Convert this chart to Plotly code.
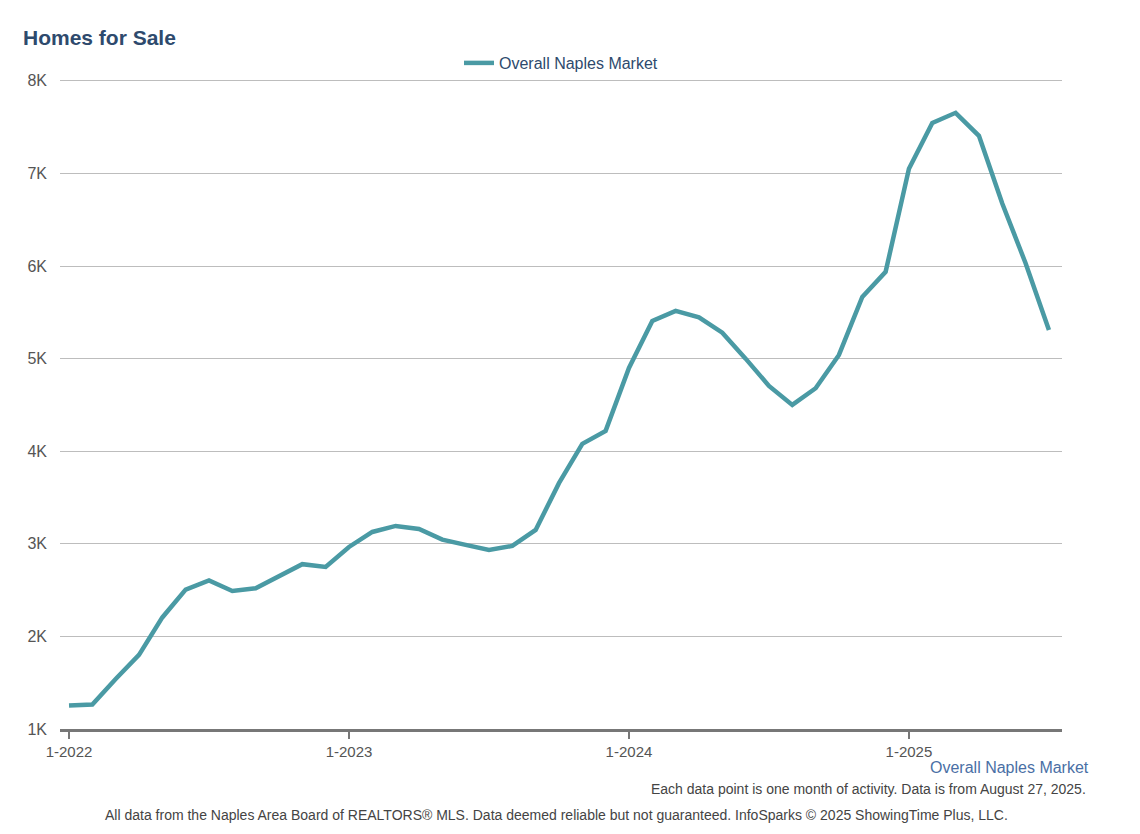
import plotly.graph_objects as go

months = [f"{y}-{m:02d}" for y in range(2022, 2026) for m in range(1, 13)][:43]
homes_for_sale = [
    1255, 1265, 1540, 1800, 2205, 2505, 2605, 2490, 2520, 2645, 2780, 2750,
    2966, 3128, 3193, 3160, 3045, 2988, 2934, 2977, 3150, 3655, 4080, 4220,
    4900, 5407, 5515, 5445, 5280, 5000, 4705, 4500, 4680, 5040, 5667, 5937,
    7050, 7546, 7655, 7406, 6675, 6030, 5310,
]
series_name = "Overall Naples Market"
tick_months = ["2022-01", "2023-01", "2024-01", "2025-01"]
tick_labels = ["1-2022", "1-2023", "1-2024", "1-2025"]
y_ticks = [1000, 2000, 3000, 4000, 5000, 6000, 7000, 8000]
y_labels = ["1K", "2K", "3K", "4K", "5K", "6K", "7K", "8K"]

FONT = "Liberation Sans, Arial, Helvetica, sans-serif"

fig = go.Figure()
fig.add_trace(go.Scatter(
    x=months, y=homes_for_sale, mode="lines", name=series_name,
    line=dict(color="#4a9aa4", width=4.5),
))

fig.update_layout(
    width=1140, height=834,
    margin=dict(l=60, r=78, t=79, b=105, autoexpand=False),
    paper_bgcolor="white", plot_bgcolor="white",
    font=dict(family=FONT, color="#555555"),
    title=dict(text="<b>Homes for Sale</b>", x=23 / 1140, xref="container", xanchor="left",
               y=1 - 38 / 834, yanchor="middle", pad=dict(l=0),
               font=dict(size=21, color="#2e4a6d", family=FONT)),
    showlegend=True,
    legend=dict(orientation="h", x=0.5 - 9 / 1140, xanchor="center", xref="container",
                y=1 - 63 / 834, yref="container", yanchor="middle",
                font=dict(size=16, color="#2e4a6d", family=FONT),
                itemwidth=30, bgcolor="rgba(0,0,0,0)"),
)

fig.update_xaxes(
    type="category", categoryorder="array", categoryarray=months,
    range=[-0.386, 42.56],
    tickvals=tick_months, ticktext=tick_labels,
    showgrid=False, showline=True, linecolor="#777777", linewidth=3,
    ticks="outside", ticklen=7, tickwidth=2, tickcolor="#777777",
    tickfont=dict(size=15, color="#555555", family=FONT),
    zeroline=False, fixedrange=True,
)
fig.update_yaxes(
    range=[1000, 8020], tickvals=y_ticks, ticktext=y_labels,
    showgrid=True, gridcolor="#bdbdbd", gridwidth=1,
    zeroline=False, showline=False, ticks="", ticklabelstandoff=12,
    tickfont=dict(size=16, color="#555555", family=FONT),
)

fig.add_annotation(text=series_name, xref="paper", yref="paper",
                   x=1 + (1091 - 1062) / 1002, y=-(767 - 729) / 650,
                   xanchor="right", yanchor="middle", showarrow=False,
                   font=dict(size=16, color="#4a6fa5", family=FONT))
fig.add_annotation(text="Each data point is one month of activity. Data is from August 27, 2025.",
                   xref="paper", yref="paper",
                   x=1 + (1088 - 1062) / 1002, y=-(789 - 729) / 650,
                   xanchor="right", yanchor="middle", showarrow=False,
                   font=dict(size=14, color="#444444", family=FONT))
fig.add_annotation(text="All data from the Naples Area Board of REALTORS® MLS. Data deemed reliable but not guaranteed. InfoSparks © 2025 ShowingTime Plus, LLC.",
                   xref="paper", yref="paper",
                   x=(556 - 60) / 1002, y=-(815 - 729) / 650,
                   xanchor="center", yanchor="middle", showarrow=False,
                   font=dict(size=14, color="#444444", family=FONT))

fig.write_html("out.html")
